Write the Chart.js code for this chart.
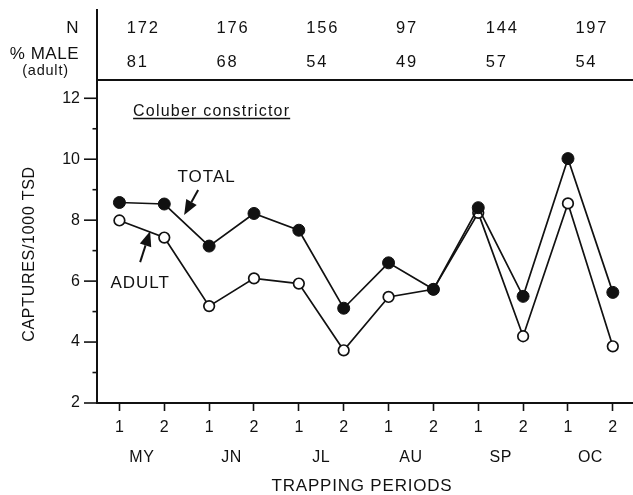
<!DOCTYPE html>
<html><head><meta charset="utf-8">
<script src="https://cdn.jsdelivr.net/npm/chart.js@4.4.0/dist/chart.umd.min.js"></script>
<style>html,body{margin:0;padding:0;background:#fff;} canvas{display:block}</style>
</head><body>
<canvas id="c" width="633" height="495"></canvas>
<script>
// ---- data ----
const periodLabels = ['1','2','1','2','1','2','1','2','1','2','1','2'];
const monthLabels = ['MY','JN','JL','AU','SP','OC'];
const sampleN = [172,176,156,97,144,197];
const percentMale = [81,68,54,49,57,54];
const totalCaptures = [8.58,8.53,7.15,8.22,7.67,5.11,6.60,5.73,8.41,5.50,10.02,5.63];
const adultCaptures = [7.99,7.43,5.18,6.09,5.92,3.73,5.48,5.73,8.24,4.19,8.55,3.86];
const yTickValues = [2,3,4,5,6,7,8,9,10,11,12];

// ---- styling / annotation placement (data coordinates) ----
const INK = '#111';
const FONT = '"Liberation Sans", Arial, Helvetica, sans-serif';
const notes = {
  species: {text:'Coluber constrictor', x:1.305, y:11.418},
  total: {text:'TOTAL', x:2.944, y:9.415, from:[2.755,8.988], to:[2.443,8.167]},
  adult: {text:'ADULT', x:1.462, y:5.934, from:[1.462,6.622], to:[1.684,7.640]}
};

const toPoints = arr => arr.map((v,i)=>({x:i+1,y:v}));

function arrow(ctx, x1, y1, x2, y2){
  const ang = Math.atan2(y2-y1, x2-x1);
  const hl = 15, hw = 6;
  const bx = x2 - hl*Math.cos(ang), by = y2 - hl*Math.sin(ang);
  ctx.beginPath(); ctx.moveTo(x1,y1); ctx.lineTo(bx,by); ctx.lineWidth = 2; ctx.stroke();
  ctx.beginPath();
  ctx.moveTo(x2,y2);
  ctx.lineTo(bx + hw*Math.sin(ang), by - hw*Math.cos(ang));
  ctx.lineTo(bx - hw*Math.sin(ang), by + hw*Math.cos(ang));
  ctx.closePath(); ctx.fill();
}

const decor = {
  id:'decor',
  afterDraw(chart){
    const ctx = chart.ctx, a = chart.chartArea;
    const xs = chart.scales.x, ys = chart.scales.y;
    ctx.save();
    ctx.strokeStyle = INK; ctx.fillStyle = INK;
    // frame extension and top line
    ctx.lineWidth = 2;
    ctx.beginPath(); ctx.moveTo(a.left, 9); ctx.lineTo(a.left, a.top); ctx.stroke();
    ctx.beginPath(); ctx.moveTo(a.left, a.top); ctx.lineTo(chart.width, a.top); ctx.stroke();
    // y tick marks (major/minor)
    ctx.lineWidth = 1.6;
    yTickValues.forEach(v=>{
      const y = ys.getPixelForValue(v);
      const len = v % 2 === 0 ? 13 : 4.5;
      ctx.beginPath(); ctx.moveTo(a.left - len, y); ctx.lineTo(a.left, y); ctx.stroke();
    });
    // header
    ctx.textBaseline = 'alphabetic';
    ctx.font = '17px ' + FONT; ctx.letterSpacing = '0.5px'; ctx.textAlign = 'right';
    ctx.fillText('N', 79, 33);
    ctx.fillText('% MALE', 79, 58.5);
    ctx.font = '14.5px ' + FONT; ctx.letterSpacing = '0.8px'; ctx.textAlign = 'center';
    ctx.fillText('(adult)', 45.5, 74.5);
    ctx.font = '16.5px ' + FONT; ctx.letterSpacing = '1.8px'; ctx.textAlign = 'left';
    monthLabels.forEach((m,i)=>{
      const cx = xs.getPixelForValue(2*i+1.5);
      ctx.fillText(String(sampleN[i]), cx - 15, 33);
      ctx.fillText(String(percentMale[i]), cx - 15, 67);
    });
    // month labels
    ctx.font = '16px ' + FONT; ctx.letterSpacing = '0.5px'; ctx.textAlign = 'center';
    monthLabels.forEach((m,i)=>{
      ctx.fillText(m, xs.getPixelForValue(2*i+1.5), 462);
    });
    // axis titles
    ctx.font = '17px ' + FONT; ctx.letterSpacing = '0.8px';
    ctx.fillText('TRAPPING PERIODS', 362, 491);
    ctx.save();
    ctx.translate(34, 254); ctx.rotate(-Math.PI/2);
    ctx.font = '16px ' + FONT; ctx.letterSpacing = '0.7px';
    ctx.fillText('CAPTURES/1000 TSD', 0, 0);
    ctx.restore();
    // species label
    ctx.font = '16px ' + FONT; ctx.letterSpacing = '1.2px'; ctx.textAlign = 'left';
    const sx = xs.getPixelForValue(notes.species.x), sy = ys.getPixelForValue(notes.species.y);
    ctx.fillText(notes.species.text, sx, sy);
    const w = ctx.measureText(notes.species.text).width;
    ctx.lineWidth = 1.3;
    ctx.beginPath(); ctx.moveTo(sx, sy + 2.5); ctx.lineTo(sx + w, sy + 2.5); ctx.stroke();
    // series labels with arrows
    ctx.font = '17px ' + FONT; ctx.letterSpacing = '1px'; ctx.textAlign = 'center'; ctx.textBaseline = 'middle';
    ['total','adult'].forEach(k=>{
      const n = notes[k];
      ctx.fillText(n.text, xs.getPixelForValue(n.x), ys.getPixelForValue(n.y));
      arrow(ctx, xs.getPixelForValue(n.from[0]), ys.getPixelForValue(n.from[1]),
                 xs.getPixelForValue(n.to[0]), ys.getPixelForValue(n.to[1]));
    });
    ctx.restore();
  }
};

new Chart(document.getElementById('c'), {
  type:'line',
  data:{
    datasets:[
      {label:'TOTAL', data:toPoints(totalCaptures), borderColor:INK, borderWidth:1.7,
       pointRadius:6, pointBackgroundColor:INK, pointBorderColor:INK, pointBorderWidth:1, order:0},
      {label:'ADULT', data:toPoints(adultCaptures), borderColor:INK, borderWidth:1.7,
       pointRadius:5.3, pointBackgroundColor:'#fff', pointBorderColor:INK, pointBorderWidth:1.7, order:1}
    ]
  },
  options:{
    responsive:false, animation:false, devicePixelRatio:1,
    layout:{autoPadding:false, padding:{top:80,left:0,right:0,bottom:0}},
    plugins:{legend:{display:false}, tooltip:{enabled:false}},
    scales:{
      x:{type:'linear', min:0.5, max:12.45,
        afterBuildTicks:s=>{ s.ticks = periodLabels.map((_,i)=>({value:i+1})); },
        afterFit:s=>{ s.height = 92; s.paddingLeft = 0; s.paddingRight = 0; },
        ticks:{color:INK, font:{family:FONT,size:16}, padding:7, maxRotation:0, autoSkip:false,
          callback:v=>periodLabels[v-1]},
        grid:{display:true, drawOnChartArea:false, drawTicks:true, tickLength:8, tickColor:INK, tickWidth:1.6},
        border:{display:true, color:INK, width:2}
      },
      y:{type:'linear', min:2, max:12.6,
        afterBuildTicks:s=>{ s.ticks = yTickValues.map(v=>({value:v})); },
        afterFit:s=>{ s.width = 97; s.paddingTop = 0; s.paddingBottom = 0; },
        ticks:{color:INK, font:{family:FONT,size:16}, padding:4, autoSkip:false,
          callback:v=> v % 2 === 0 ? String(v) : ''},
        grid:{display:true, drawOnChartArea:false, drawTicks:true, tickLength:13, tickColor:'rgba(0,0,0,0)'},
        border:{display:true, color:INK, width:2}
      }
    }
  },
  plugins:[decor]
});
</script>
</body></html>
